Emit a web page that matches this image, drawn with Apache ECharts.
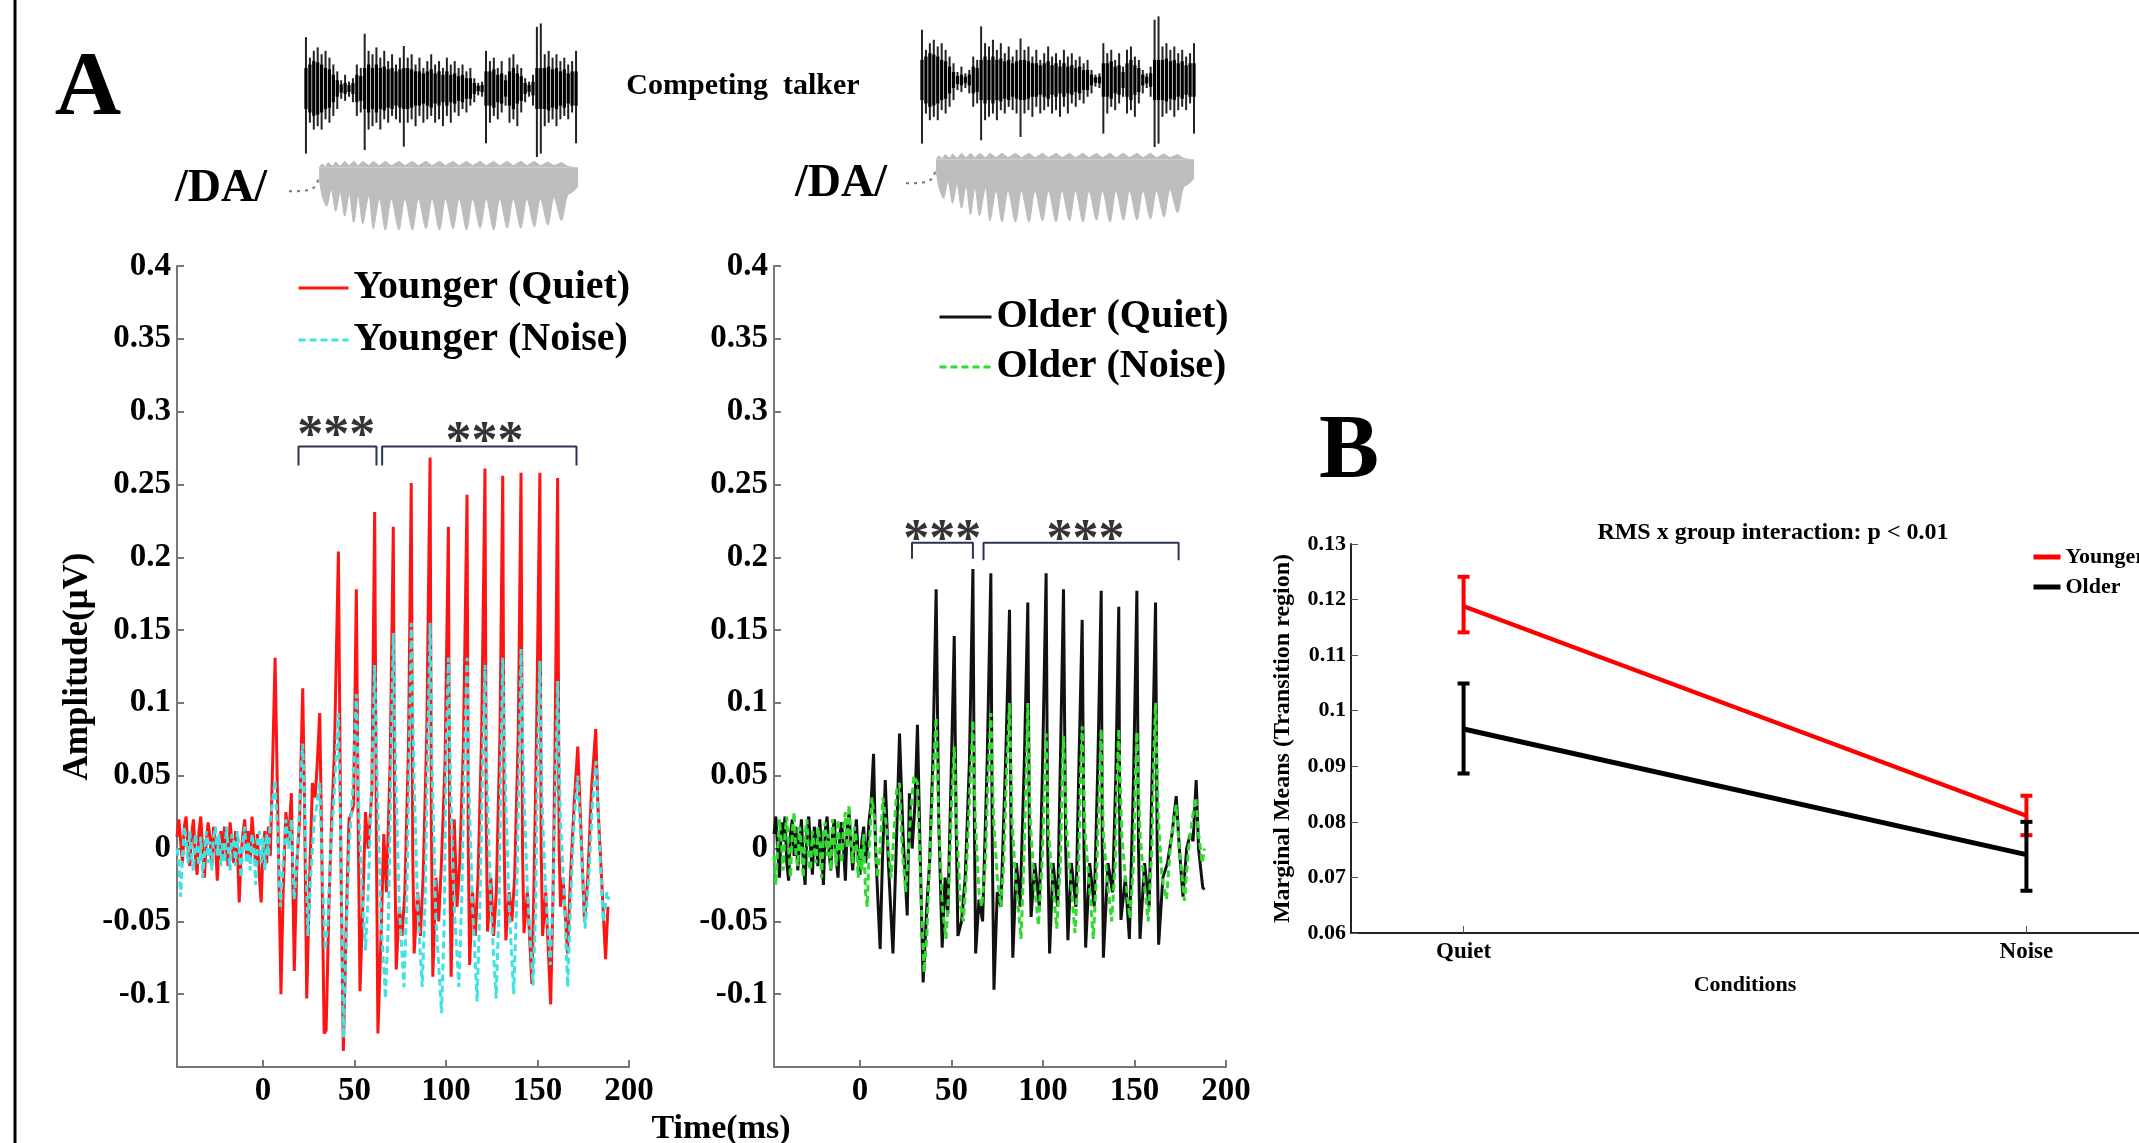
<!DOCTYPE html>
<html>
<head>
<meta charset="utf-8">
<title>Envelope following responses</title>
<script src="https://cdn.jsdelivr.net/npm/echarts@6/dist/echarts.min.js"></script>
<style>
  html, body { margin: 0; padding: 0; background: #fff; }
  #chart { width: 2139px; height: 1143px; }
</style>
</head>
<body>
<div id="chart"></div>
<script>
// 图A：四条诱发反应曲线 [时间ms, 幅值µV]，图B：组 x 条件的边际均值
const SERIF = '"Liberation Serif", "Times New Roman", serif'

const youngerQuiet = [
  [-47,0.008],[-46,0.02],[-45,0.005],[-44,-0.01],[-43,0.015],[-42,0.022],[-41,0.0],[-40,-0.012],[-39,0.01],[-38,0.02],
  [-37,-0.005],[-36,-0.018],[-35,0.012],[-34,0.022],[-33,0.0],[-32,-0.02],[-31,0.005],[-30,0.018],[-29,0.008],[-28,-0.012],
  [-27,0.015],[-26,0.005],[-25,-0.022],[-24,0.0],[-23,0.012],[-22,-0.005],[-21,0.015],[-20,0.0],[-19,-0.012],[-18,0.018],
  [-17,0.005],[-16,-0.01],[-15,0.012],[-14,0.0],[-13,-0.037],[-12,-0.005],[-11,0.01],[-10,0.02],[-9,-0.005],[-8,0.012],
  [-7,-0.01],[-6,0.022],[-5,0.005],[-4,-0.012],[-3,0.01],[-2,-0.02],[-1,-0.037],[0,0.0],[1,0.012],[2,-0.01],
  [3,0.015],[4,-0.005],[5,0.045],[6.6,0.131],[8,0.03],[9.8,-0.1],[11,-0.03],[12.5,0.025],[14,0.005],[15.5,0.038],
  [17.1,-0.084],[18.5,-0.01],[20,0.02],[21.7,0.11],[22.8,0.02],[23.9,-0.103],[25.5,-0.02],[27,0.045],[28.5,0.035],[29.5,0.055],
  [31,0.093],[32,0.01],[33.4,-0.127],[34.5,-0.125],[36,-0.04],[37.5,0.02],[39,0.065],[41.2,0.204],[42.5,0.0],[43.9,-0.139],
  [45.5,-0.05],[47,0.02],[48.5,0.025],[49.5,0.03],[51,0.178],[52,0.02],[53,-0.098],[54.5,-0.04],[56,0.025],[57.5,0.0],
  [59.5,0.04],[61,0.231],[62,0.0],[62.8,-0.127],[64.5,-0.06],[66,0.01],[67.5,-0.03],[69.5,0.06],[71.2,0.221],[72,0.0],
  [72.8,-0.083],[74.5,-0.04],[76,-0.06],[77.5,-0.03],[79.5,0.07],[81,0.251],[81.8,0.0],[82.6,-0.072],[84.5,-0.03],[86,-0.06],
  [87.5,-0.02],[89.5,0.08],[91.3,0.2685],[92,0.02],[92.8,-0.088],[94.5,-0.02],[96,-0.05],[97.5,-0.01],[99.5,0.06],[101.3,0.221],
  [102,0.0],[102.8,-0.088],[104.5,0.02],[106,-0.04],[107.5,-0.01],[109.5,0.07],[111.5,0.243],[112.2,0.0],[112.9,-0.08],[114.5,-0.03],
  [116,-0.06],[117.5,-0.02],[119.5,0.08],[121.3,0.261],[122,0.02],[122.7,-0.057],[124.5,-0.02],[126,-0.06],[127.5,-0.03],[129.5,0.08],
  [131,0.256],[131.8,0.0],[132.7,-0.063],[134.5,-0.03],[136,-0.05],[137.5,-0.02],[139.5,0.08],[141,0.258],[141.8,0.0],[142.6,-0.058],
  [144.5,-0.03],[146.9,-0.093],[148,-0.03],[149.5,0.08],[151.3,0.258],[152,0.0],[152.8,-0.06],[154.5,-0.03],[157.2,-0.107],[158.5,-0.03],
  [159.5,0.06],[161,0.2545],[161.8,0.0],[162.6,-0.04],[164,-0.02],[166.4,-0.072],[168,-0.02],[170,0.03],[172,0.07],[173.5,0.02],
  [175.7,-0.05],[177.5,-0.02],[179.5,0.04],[181.8,0.082],[183,0.03],[185,-0.02],[187.2,-0.076],[188.5,-0.04]
]

const youngerNoise = [
  [-47,0.0],[-46,-0.01],[-45,-0.033],[-44,-0.005],[-43,0.015],[-42,0.005],[-41,-0.01],[-40,0.012],[-39,-0.008],[-38,-0.015],
  [-37,0.01],[-36,0.0],[-35,-0.012],[-34,0.008],[-33,-0.02],[-32,-0.005],[-31,0.012],[-30,-0.01],[-29,0.005],[-28,-0.015],
  [-27,0.008],[-26,0.015],[-25,-0.005],[-24,0.01],[-23,-0.012],[-22,0.005],[-21,-0.01],[-20,0.015],[-19,0.0],[-18,-0.015],
  [-17,0.01],[-16,0.005],[-15,-0.012],[-14,0.012],[-13,0.0],[-12,-0.02],[-11,0.005],[-10,0.015],[-9,-0.01],[-8,0.005],
  [-7,-0.015],[-6,0.01],[-5,0.0],[-4,-0.025],[-3,0.005],[-2,0.012],[-1,-0.01],[0,0.008],[1,-0.015],[2,0.01],
  [3,-0.005],[4,0.02],[5,0.03],[6.6,0.047],[8,0.01],[9.5,-0.04],[11,-0.01],[12.5,0.02],[14,0.0],[15.5,0.02],
  [17,-0.035],[18.5,-0.01],[20,0.03],[21.7,0.072],[23,0.02],[24.5,-0.06],[26,-0.02],[28,0.02],[29.5,0.03],[31,0.045],
  [32.5,-0.02],[34,-0.07],[35.5,-0.05],[37,0.0],[39,0.04],[41.2,0.093],[42.5,0.0],[44,-0.13],[45.5,-0.06],[47,0.0],
  [49,0.04],[51,0.106],[52.5,0.02],[54.5,-0.04],[56,-0.07],[57.5,-0.03],[59.5,0.05],[61,0.126],[62.5,0.04],[64.5,-0.05],
  [66.9,-0.103],[68.5,-0.05],[70,0.06],[71.2,0.148],[72.5,0.05],[74.5,-0.04],[77,-0.095],[78.5,-0.04],[80,0.07],[81,0.155],
  [82.5,0.05],[84.5,-0.04],[87,-0.095],[88.5,-0.04],[90,0.07],[91.3,0.155],[92.5,0.05],[94.5,-0.05],[97.6,-0.113],[99,-0.05],
  [100,0.06],[101.3,0.131],[102.5,0.04],[104.5,-0.04],[107,-0.095],[108.5,-0.04],[110,0.06],[111.5,0.131],[112.5,0.04],[114.5,-0.04],
  [117,-0.105],[118.5,-0.04],[120,0.06],[121.3,0.126],[122.5,0.04],[124.5,-0.04],[127.4,-0.103],[129,-0.04],[130,0.06],[131,0.131],
  [132.5,0.04],[134.5,-0.04],[137,-0.1],[138.5,-0.04],[140,0.06],[141,0.137],[142.5,0.04],[144.5,-0.03],[147.6,-0.094],[149,-0.04],
  [150,0.06],[151.3,0.129],[152.5,0.03],[154.5,-0.03],[157,-0.08],[158.5,-0.03],[160,0.05],[161,0.115],[162.5,0.02],[164.5,-0.03],
  [166.5,-0.095],[168,-0.04],[170,0.02],[172,0.05],[173.5,0.01],[176,-0.055],[178,-0.02],[180,0.03],[182,0.06],[183.5,0.01],
  [186,-0.05],[188,-0.03],[189,-0.035]
]

const olderQuiet = [
  [-47,0.01],[-46,0.022],[-45,0.0],[-44,-0.02],[-43,0.018],[-42,0.005],[-41,0.022],[-40,-0.01],[-39,-0.022],[-38,0.01],
  [-37,0.02],[-36,-0.005],[-35,0.015],[-34,-0.015],[-33,0.005],[-32,0.02],[-31,-0.01],[-30,-0.025],[-29,0.012],[-28,0.022],
  [-27,0.0],[-26,-0.018],[-25,0.015],[-24,0.005],[-23,-0.012],[-22,0.02],[-21,0.0],[-20,-0.025],[-19,0.012],[-18,0.022],
  [-17,0.0],[-16,-0.015],[-15,0.01],[-14,0.02],[-13,-0.008],[-12,-0.02],[-11,0.01],[-10,0.018],[-9,0.0],[-8,-0.022],
  [-7,0.015],[-6,0.024],[-5,0.005],[-4,-0.015],[-3,0.005],[-2,0.02],[-1,-0.005],[0,-0.018],[1,0.005],[2,0.015],
  [3,-0.01],[4,0.0],[5,0.02],[6,0.03],[7.4,0.065],[8.5,0.0],[11,-0.069],[12.2,-0.01],[13.8,0.047],[15.5,-0.01],
  [18,-0.072],[19.8,0.0],[21.6,0.079],[23.5,0.01],[25.8,-0.046],[27,0.038],[28.5,0.0],[30,0.03],[31.4,0.085],[32.8,0.0],
  [34.5,-0.092],[36.5,-0.04],[38,-0.01],[39.8,0.06],[41.6,0.178],[43,0.02],[44.9,-0.068],[46.5,-0.02],[48,-0.045],[49.8,0.05],
  [51.5,0.146],[52.5,0.02],[53.5,-0.06],[55.5,-0.05],[57.5,-0.02],[59.8,0.06],[61.7,0.192],[62.5,0.02],[63.2,-0.072],[65,-0.035],
  [67,-0.05],[69.5,0.06],[71.5,0.189],[72.3,0.0],[73.2,-0.097],[75,-0.03],[77,-0.04],[79.8,0.07],[81.7,0.164],[82.6,0.0],
  [83.5,-0.075],[85.5,-0.01],[87.5,-0.04],[89.8,0.06],[91.7,0.169],[92.6,0.0],[93.5,-0.047],[95.5,-0.01],[98,-0.04],[99.8,0.06],
  [101.7,0.189],[102.6,0.0],[103.6,-0.072],[105.5,-0.01],[108,-0.04],[109.5,0.06],[111.2,0.178],[112.4,0.0],[113.6,-0.063],[115.5,-0.01],
  [118,-0.04],[119.5,0.05],[121.4,0.157],[122.4,0.0],[123.3,-0.068],[125.5,-0.01],[128,-0.04],[130,0.06],[131.8,0.177],[132.4,0.0],
  [133,-0.075],[135.5,-0.01],[138,-0.03],[139.8,0.05],[141.4,0.166],[142,0.0],[142.6,-0.049],[145,-0.02],[147.2,-0.062],[149.5,0.05],
  [151.3,0.177],[152.2,0.0],[153,-0.062],[155.5,-0.01],[158,-0.04],[159.8,0.06],[161.5,0.169],[162.4,0.0],[163.2,-0.066],[165.5,-0.02],
  [168,-0.01],[170.5,0.01],[172.8,0.036],[174.5,0.0],[176.5,-0.033],[178.5,0.0],[180.5,0.01],[182,0.005],[183.7,0.047],[185,0.0],
  [187.3,-0.027],[188.3,-0.028]
]

const olderNoise = [
  [-47,-0.005],[-46,-0.025],[-45,0.0],[-44,0.02],[-43,0.005],[-42,-0.015],[-41,0.01],[-40,0.022],[-39,0.0],[-38,-0.02],
  [-37,0.012],[-36,0.025],[-35,-0.005],[-34,-0.012],[-33,0.015],[-32,0.0],[-31,-0.02],[-30,0.01],[-29,0.02],[-28,-0.01],
  [-27,-0.015],[-26,0.012],[-25,0.0],[-24,-0.01],[-23,0.015],[-22,0.005],[-21,-0.02],[-20,0.01],[-19,0.018],[-18,-0.005],
  [-17,0.01],[-16,-0.015],[-15,0.02],[-14,0.005],[-13,-0.012],[-12,0.02],[-11,0.0],[-10,-0.01],[-9,0.015],[-8,0.025],
  [-7,0.0],[-6,0.03],[-5,0.01],[-4,-0.01],[-3,0.015],[-2,0.005],[-1,-0.02],[0,0.0],[1,-0.015],[2,0.01],
  [3,-0.03],[4,-0.04],[5,0.0],[6.5,0.035],[8,0.02],[9.5,-0.02],[11,0.0],[12.5,0.035],[14,0.02],[15.5,0.0],
  [17,-0.02],[18.5,0.01],[20,0.04],[21.6,0.045],[23,0.0],[25,-0.03],[26.5,0.0],[28,0.03],[29.5,0.05],[31.4,0.045],
  [33,-0.02],[35,-0.085],[36.5,-0.06],[38,-0.01],[40,0.05],[41.6,0.09],[43,0.02],[45,-0.04],[47,-0.062],[48.5,-0.03],
  [50,0.03],[51.5,0.07],[53,0.01],[55,-0.04],[56.5,-0.05],[58,-0.02],[60,0.04],[61.7,0.088],[63,0.02],[65,-0.03],
  [66.5,-0.04],[68.5,-0.01],[70,0.05],[71.5,0.093],[73,0.02],[75,-0.02],[77,-0.04],[78.5,-0.01],[80,0.05],[81.7,0.1],
  [83,0.02],[85,-0.02],[88,-0.062],[89.5,-0.01],[91,0.06],[91.7,0.1],[93,0.02],[95,-0.02],[97.5,-0.053],[99.5,-0.01],
  [101,0.05],[101.7,0.079],[103,0.01],[105,-0.02],[107.5,-0.055],[109.5,-0.01],[110.5,0.05],[111.2,0.077],[113,0.01],[115,-0.02],
  [117.5,-0.058],[119.5,-0.01],[120.5,0.05],[121.4,0.084],[123,0.01],[125,-0.02],[127.5,-0.062],[129.5,-0.01],[131,0.05],[131.8,0.082],
  [133,0.01],[135,-0.02],[137.5,-0.05],[139.5,-0.01],[140.5,0.05],[141.4,0.082],[143,0.01],[145,-0.02],[147.5,-0.048],[149.5,-0.01],
  [150.5,0.05],[151.3,0.08],[153,0.01],[155,-0.02],[157.5,-0.05],[159.5,0.0],[160.5,0.06],[161.5,0.1],[163,0.02],[165,-0.02],
  [167.5,-0.035],[169.5,0.0],[171.5,0.02],[172.8,0.03],[174.5,0.0],[177.3,-0.036],[179.5,0.0],[181.5,0.02],[183.5,0.035],[185,0.01],
  [187,-0.01],[188.3,0.0]
]

const timeTicks = [0, 50, 100, 150, 200]

// 显著性括号和星号
const bracketYoung1 = [[19.4,0.263],[19.4,0.276],[62,0.276],[62,0.263]]
const bracketYoung2 = [[65.1,0.263],[65.1,0.276],[171.3,0.276],[171.3,0.263]]
const bracketOld1 = [[28.4,0.199],[28.4,0.21],[61.7,0.21],[61.7,0.199]]
const bracketOld2 = [[67.5,0.198],[67.5,0.21],[174.1,0.21],[174.1,0.198]]
const starsYoung = [[40,0.282],[121,0.278]]
const starsOld = [[44.9,0.211],[123.2,0.211]]

// 图B
const conditions = ['Quiet', 'Noise']
const conditionPos = [1, 2]
const youngerMean = [0.1188, 0.0811]
const youngerLow = [0.1141, 0.0776]
const youngerHigh = [0.1241, 0.0847]
const olderMean = [0.0967, 0.0741]
const olderLow = [0.0887, 0.0676]
const olderHigh = [0.1049, 0.0800]

// 顶部刺激波形：干扰说话人包络 和 /DA/ 包络
const talkerTop = [0.75,0.45,0.55,0.6,0.5,0.55,0.45,0.35,0.25,0.12,0.2,0.1,0.15,0.35,0.3,0.8,0.55,0.5,0.6,0.45,
  0.55,0.4,0.5,0.35,0.45,0.62,0.45,0.5,0.35,0.45,0.3,0.4,0.5,0.35,0.4,0.3,0.45,0.35,0.4,0.3,
  0.35,0.25,0.3,0.15,0.08,0.1,0.55,0.4,0.45,0.3,0.4,0.2,0.45,0.5,0.35,0.3,0.15,0.1,0.2,0.9,
  0.95,0.5,0.55,0.45,0.5,0.4,0.45,0.35,0.4,0.55]
const talkerBottom = [0.95,0.5,0.6,0.55,0.6,0.45,0.5,0.4,0.3,0.15,0.18,0.12,0.2,0.4,0.35,0.9,0.6,0.55,0.5,0.6,
  0.45,0.5,0.4,0.45,0.5,0.85,0.5,0.45,0.55,0.4,0.5,0.45,0.4,0.5,0.45,0.55,0.4,0.5,0.35,0.4,
  0.3,0.35,0.25,0.2,0.1,0.12,0.8,0.5,0.4,0.45,0.35,0.25,0.5,0.45,0.55,0.35,0.2,0.12,0.25,1.0,
  0.95,0.55,0.5,0.45,0.55,0.45,0.4,0.45,0.35,0.8]
const talkerCore = [0.3,0.35,0.4,0.38,0.35,0.3,0.28,0.2,0.12,0.06,0.08,0.05,0.08,0.2,0.18,0.3,0.35,0.3,0.35,0.3,
  0.32,0.28,0.3,0.25,0.28,0.3,0.3,0.28,0.25,0.25,0.22,0.25,0.28,0.22,0.25,0.2,0.25,0.2,0.22,0.18,
  0.2,0.15,0.15,0.08,0.04,0.05,0.25,0.25,0.28,0.2,0.22,0.12,0.25,0.3,0.22,0.18,0.08,0.05,0.1,0.3,
  0.3,0.3,0.32,0.28,0.3,0.25,0.28,0.22,0.25,0.25]

const daLower = [[0,-0.15],[2,-0.45],[5,-0.62],[8,-0.35],[11,-0.7],[14,-0.4],[17,-0.78],[20,-0.42],[23,-0.88],[26,-0.45],
  [29,-0.9],[33,-0.45],[36,-0.98],[40,-0.5],[44,-1.0],[48,-0.5],[53,-1.0],[57,-0.5],[62,-1.0],[66,-0.5],
  [71,-0.98],[75,-0.5],[80,-1.0],[84,-0.5],[89,-0.98],[93,-0.5],[98,-1.0],[102,-0.5],[107,-0.97],[111,-0.5],
  [116,-1.0],[120,-0.5],[125,-0.97],[129,-0.5],[134,-0.97],[138,-0.5],[143,-0.95],[147,-0.5],[152,-0.92],[156,-0.48],
  [161,-0.85],[165,-0.45],[169,-0.38],[172,-0.3]]
const daUpper = [[0,0],[2,0.06],[4,0.01],[6,0.08],[9,0.02],[11,0.09],[14,0.02],[17,0.1],[20,0.03],[23,0.1],
  [26,0.03],[29,0.1],[33,0.03],[36,0.1],[40,0.03],[44,0.1],[48,0.03],[53,0.1],[57,0.03],[62,0.1],
  [66,0.03],[71,0.1],[75,0.03],[80,0.1],[84,0.03],[89,0.1],[93,0.03],[98,0.1],[102,0.03],[107,0.1],
  [111,0.03],[116,0.1],[120,0.03],[125,0.1],[129,0.03],[134,0.1],[138,0.03],[143,0.1],[147,0.03],[152,0.09],
  [156,0.03],[161,0.08],[165,0.02],[169,0.0],[172,-0.25]]
const daLead = [[-20,-0.38],[-14,-0.38],[-6,-0.36],[-2,-0.3],[0,-0.15]]

function txt(size) {
  return { fontFamily: SERIF, fontWeight: 'bold', fontSize: size, color: '#000' }
}

function panelAAxes(gridIndex, withName) {
  const x = {
    type: 'value', gridIndex: gridIndex, min: -47, max: 200,
    axisLine: { onZero: false, lineStyle: { color: '#777', width: 2 } },
    axisTick: { inside: true, length: 7, lineStyle: { color: '#777', width: 2 }, customValues: timeTicks },
    axisLabel: Object.assign(txt(33), { margin: 8, customValues: timeTicks }),
    splitLine: { show: false }
  }
  const y = {
    type: 'value', gridIndex: gridIndex, min: -0.15, max: 0.4, interval: 0.05,
    axisLine: { show: true, onZero: false, lineStyle: { color: '#777', width: 2 } },
    axisTick: { show: true, inside: true, length: 7, lineStyle: { color: '#777', width: 2 } },
    axisLabel: Object.assign(txt(33), {
      margin: 6,
      formatter: function (v) { return v < -0.14 ? '' : String(Math.round(v * 100) / 100) }
    }),
    splitLine: { show: false }
  }
  if (withName) {
    y.name = 'Amplitude(\u03bcV)'
    y.nameLocation = 'middle'
    y.nameGap = 82
    y.nameTextStyle = txt(35)
  }
  return [x, y]
}

function hiddenAxes(gridIndex, xmin, xmax, ymin, ymax) {
  return [
    { type: 'value', gridIndex: gridIndex, min: xmin, max: xmax, show: false },
    { type: 'value', gridIndex: gridIndex, min: ymin, max: ymax, show: false }
  ]
}

function trace(name, data, axis, color, dashed, z) {
  return {
    type: 'line', name: name, xAxisIndex: axis, yAxisIndex: axis, data: data,
    symbol: 'none', z: z, silent: true,
    itemStyle: { color: color },
    lineStyle: { color: color, width: 3, type: dashed ? [7, 4] : 'solid' }
  }
}

function bracket(data, axis) {
  return {
    type: 'line', xAxisIndex: axis, yAxisIndex: axis, data: data, symbol: 'none', silent: true,
    lineStyle: { color: '#2c3550', width: 2 }, z: 5
  }
}

function stars(data, axis) {
  return {
    type: 'scatter', xAxisIndex: axis, yAxisIndex: axis, data: data, symbolSize: 0, silent: true, z: 6,
    label: { show: true, position: 'inside', formatter: '***', fontFamily: SERIF, fontWeight: 'bold', fontSize: 52, color: '#000' }
  }
}

function envelope(axis, rows, color, width) {
  return {
    type: 'custom', coordinateSystem: 'cartesian2d', xAxisIndex: axis, yAxisIndex: axis, silent: true,
    data: rows, encode: { x: 0, y: [1, 2] },
    renderItem: function (params, api) {
      const p1 = api.coord([api.value(0), api.value(1)])
      const p2 = api.coord([api.value(0), -api.value(2)])
      return { type: 'line', shape: { x1: p1[0], y1: p1[1], x2: p2[0], y2: p2[1] }, style: { stroke: color, lineWidth: width } }
    }
  }
}

function daSeries(axis) {
  const grey = '#bdbdbd'
  return [
    { type: 'line', xAxisIndex: axis, yAxisIndex: axis, data: daLower, symbol: 'none', silent: true, smooth: 0.3,
      lineStyle: { color: grey, width: 1 }, areaStyle: { color: grey, opacity: 1 } },
    { type: 'line', xAxisIndex: axis, yAxisIndex: axis, data: daUpper, symbol: 'none', silent: true,
      lineStyle: { color: grey, width: 1 }, areaStyle: { color: grey, opacity: 1 } },
    { type: 'line', xAxisIndex: axis, yAxisIndex: axis, data: daLead, symbol: 'none', silent: true,
      lineStyle: { color: '#777', width: 2, type: [3, 5] } }
  ]
}

function errorBars(name, low, high, color) {
  return {
    type: 'custom', name: name, coordinateSystem: 'cartesian2d', xAxisIndex: 2, yAxisIndex: 2, silent: true, z: 4,
    data: conditionPos.map((x, i) => [x, low[i], high[i]]),
    encode: { x: 0, y: [1, 2] },
    renderItem: function (params, api) {
      const lo = api.coord([api.value(0), api.value(1)])
      const hi = api.coord([api.value(0), api.value(2)])
      const st = { stroke: color, lineWidth: 4 }
      return {
        type: 'group',
        children: [
          { type: 'line', shape: { x1: lo[0], y1: lo[1], x2: hi[0], y2: hi[1] }, style: st },
          { type: 'line', shape: { x1: lo[0] - 6, y1: lo[1], x2: lo[0] + 6, y2: lo[1] }, style: st },
          { type: 'line', shape: { x1: hi[0] - 6, y1: hi[1], x2: hi[0] + 6, y2: hi[1] }, style: st }
        ]
      }
    }
  }
}

function gText(text, x, y, size) {
  return {
    type: 'text', x: x, y: y, silent: true,
    style: { text: text, font: 'bold ' + size + 'px ' + SERIF, fill: '#000', align: 'center', verticalAlign: 'middle' }
  }
}

const legendBase = {
  orient: 'vertical', selectedMode: false,
  itemStyle: { color: 'rgba(0,0,0,0)', borderWidth: 0 }
}

function chartInit(node) {
  const myChart = echarts.init(node)
  const aLeft = panelAAxes(0, true)
  const aRight = panelAAxes(1, false)
  const talkerRows = talkerTop.map((v, i) => [i, v, talkerBottom[i]])
  const coreRows = talkerCore.map((v, i) => [i, v, v])
  const tA = hiddenAxes(3, -0.5, 69.5, -1, 1)
  const tB = hiddenAxes(4, -0.5, 69.5, -1, 1)
  const dA = hiddenAxes(5, -22, 172, -1, 0.12)
  const dB = hiddenAxes(6, -22, 172, -1, 0.12)

  const option = {
    animation: false,
    backgroundColor: '#fff',
    grid: [
      { left: 177, top: 266, width: 452, height: 801 },
      { left: 774, top: 266, width: 452, height: 801 },
      { left: 1351, top: 544, width: 811, height: 389 },
      { left: 304, top: 20, width: 274, height: 137 },
      { left: 920, top: 13, width: 276, height: 134 },
      { left: 286, top: 160, width: 292, height: 70 },
      { left: 903, top: 152, width: 291, height: 70 }
    ],
    xAxis: [
      aLeft[0], aRight[0],
      {
        type: 'value', gridIndex: 2, min: 0.8, max: 2.2,
        name: 'Conditions', nameLocation: 'middle', nameGap: 41, nameTextStyle: txt(22),
        axisLine: { onZero: false, lineStyle: { color: '#222', width: 2 } },
        axisTick: { inside: true, length: 7, lineStyle: { color: '#555' }, customValues: conditionPos },
        axisLabel: Object.assign(txt(23), {
          margin: 8, customValues: conditionPos,
          formatter: function (v) { return conditions[conditionPos.indexOf(v)] }
        }),
        splitLine: { show: false }
      },
      tA[0], tB[0], dA[0], dB[0]
    ],
    yAxis: [
      aLeft[1], aRight[1],
      {
        type: 'value', gridIndex: 2, min: 0.06, max: 0.13, interval: 0.01,
        name: 'Marginal Means (Transition region)', nameLocation: 'middle', nameGap: 56, nameTextStyle: txt(24),
        axisLine: { show: true, onZero: false, lineStyle: { color: '#222', width: 2 } },
        axisTick: { show: true, inside: true, length: 7, lineStyle: { color: '#555' } },
        axisLabel: Object.assign(txt(22), {
          margin: 5,
          formatter: function (v) { return String(Math.round(v * 100) / 100) }
        }),
        splitLine: { show: false }
      },
      tA[1], tB[1], dA[1], dB[1]
    ],
    legend: [
      Object.assign({}, legendBase, {
        data: ['Younger (Quiet)', 'Younger (Noise)'], left: 292, top: 263,
        itemWidth: 50, itemHeight: 14, itemGap: 12, lineStyle: { width: 3 },
        textStyle: Object.assign(txt(40), { lineHeight: 40 })
      }),
      Object.assign({}, legendBase, {
        data: ['Older (Quiet)', 'Older (Noise)'], left: 933, top: 292,
        itemWidth: 52, itemHeight: 14, itemGap: 10, lineStyle: { width: 3 },
        textStyle: Object.assign(txt(40), { lineHeight: 40 })
      }),
      Object.assign({}, legendBase, {
        data: ['Younger', 'Older'], left: 2026, top: 540,
        itemWidth: 27, itemHeight: 8, itemGap: 6, lineStyle: { width: 5 },
        textStyle: Object.assign(txt(22), { lineHeight: 24 })
      })
    ],
    graphic: [
      { type: 'line', shape: { x1: 15, y1: 0, x2: 15, y2: 1143 }, style: { stroke: '#000', lineWidth: 3 } },
      gText('A', 88, 90, 92),
      gText('B', 1349, 454, 90),
      gText('Competing  talker', 743, 86, 30),
      gText('/DA/', 221, 189, 46),
      gText('/DA/', 841, 184, 46),
      gText('Time(ms)', 721, 1129, 34),
      gText('RMS x group interaction: p < 0.01', 1773, 533, 24)
    ],
    series: [
      trace('Younger (Quiet)', youngerQuiet, 0, '#ff1414', false, 2),
      trace('Younger (Noise)', youngerNoise, 0, '#3fe3e3', true, 3),
      trace('Older (Quiet)', olderQuiet, 1, '#111111', false, 2),
      trace('Older (Noise)', olderNoise, 1, '#2fdc2f', true, 3),
      bracket(bracketYoung1, 0), bracket(bracketYoung2, 0),
      bracket(bracketOld1, 1), bracket(bracketOld2, 1),
      stars(starsYoung, 0), stars(starsOld, 1),
      {
        type: 'line', name: 'Younger', xAxisIndex: 2, yAxisIndex: 2, symbol: 'none', silent: true, z: 3,
        data: conditionPos.map((x, i) => [x, youngerMean[i]]),
        itemStyle: { color: '#ff0000' }, lineStyle: { color: '#ff0000', width: 4.5 }
      },
      {
        type: 'line', name: 'Older', xAxisIndex: 2, yAxisIndex: 2, symbol: 'none', silent: true, z: 3,
        data: conditionPos.map((x, i) => [x, olderMean[i]]),
        itemStyle: { color: '#000' }, lineStyle: { color: '#000', width: 5 }
      },
      errorBars('Younger SE', youngerLow, youngerHigh, '#ff0000'),
      errorBars('Older SE', olderLow, olderHigh, '#000'),
      envelope(3, talkerRows, '#222', 2), envelope(3, coreRows, '#000', 3.2),
      envelope(4, talkerRows, '#222', 2), envelope(4, coreRows, '#000', 3.2)
    ].concat(daSeries(5), daSeries(6))
  }
  myChart.setOption(option)

  window.addEventListener('resize', function () {
    myChart.resize()
  })
}

chartInit(document.getElementById('chart'))
</script>
</body>
</html>
